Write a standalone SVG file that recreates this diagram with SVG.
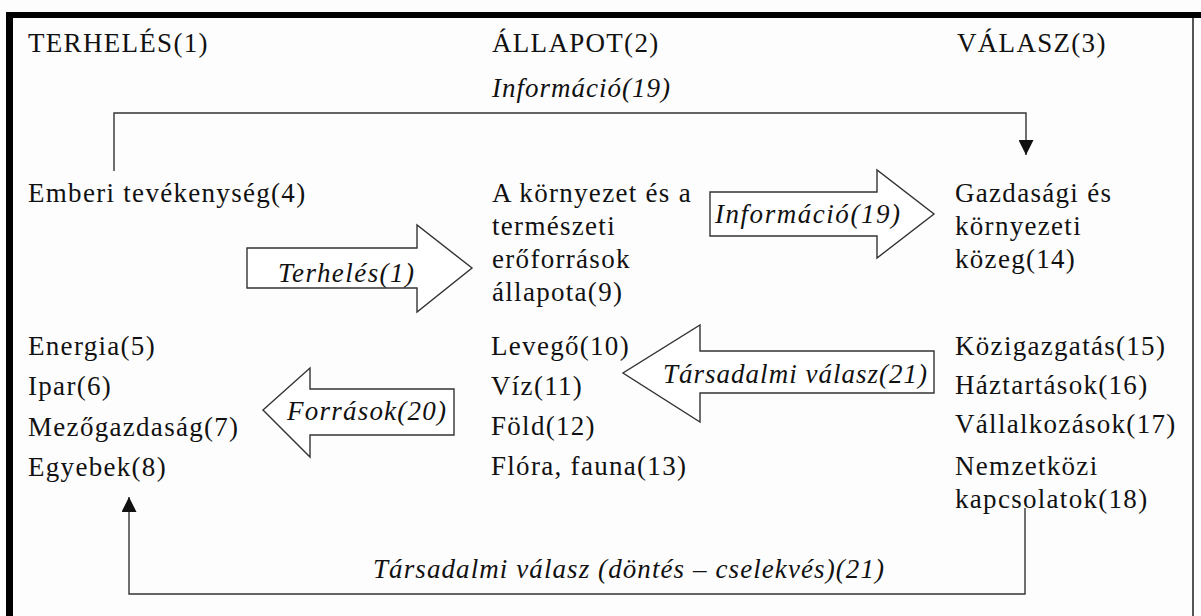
<svg xmlns="http://www.w3.org/2000/svg" width="1201" height="616" viewBox="0 0 1201 616">
<style>
  text { font-family: "Liberation Serif", "DejaVu Serif", "Times New Roman", serif; }
  .t { font-size: 27px; fill: #111; letter-spacing: 1.3px; }
  .i { font-size: 27px; font-style: italic; fill: #111; letter-spacing: 1px; }
  .ln { fill: none; stroke: #333; stroke-width: 1.4; }
  .blk { fill: #fff; stroke: #333; stroke-width: 1.4; stroke-linejoin: miter; }
</style>
<defs>
  <marker id="ah" viewBox="0 0 10 10" refX="10" refY="5" markerWidth="15" markerHeight="15" markerUnits="userSpaceOnUse" orient="auto">
    <path d="M0,0 L10,5 L0,10 Z" fill="#111"/>
  </marker>
</defs>
<rect x="0" y="0" width="1201" height="616" fill="#fdfdfd"/>
<g id="frame">
  <rect x="6" y="12" width="1195" height="6" fill="#000"/>
  <rect x="6" y="12" width="7" height="604" fill="#000"/>
  <line x1="1193" y1="18" x2="1193" y2="616" stroke="#555" stroke-width="2"/>
</g>
<g id="headers">
  <text class="t" x="28" y="52">TERHELÉS(1)</text>
  <text class="t" x="492" y="52">ÁLLAPOT(2)</text>
  <text class="t" x="957" y="52">VÁLASZ(3)</text>
</g>
<g id="connectors">
  <path class="ln" d="M114,171 V113 H1026 V155" marker-end="url(#ah)"/>
  <text class="i" x="492" y="97">Információ(19)</text>
  <path class="ln" d="M1025,508 V594 H129 V497" marker-end="url(#ah)"/>
  <text class="i" x="373" y="578" textLength="512" lengthAdjust="spacing">Társadalmi válasz (döntés – cselekvés)(21)</text>
</g>
<g id="arrow-terheles">
  <path class="blk" d="M247,248 H417 V225 L472,268 L417,312 V288 H247 Z"/>
  <text class="i" x="278" y="282" textLength="137" lengthAdjust="spacing">Terhelés(1)</text>
</g>
<g id="arrow-informacio">
  <path class="blk" d="M710,192 H877 V170 L934,214 L877,258 V236 H710 Z"/>
  <text class="i" x="715" y="223" textLength="186" lengthAdjust="spacing">Információ(19)</text>
</g>
<g id="arrow-tarsadalmi">
  <path class="blk" d="M934,351 H700 V325 L623,373 L700,422 V393 H934 Z"/>
  <text class="i" x="663" y="383" textLength="265" lengthAdjust="spacing">Társadalmi válasz(21)</text>
</g>
<g id="arrow-forrasok">
  <path class="blk" d="M454,389 H310 V368 L263,410 L310,457 V435 H454 Z"/>
  <text class="i" x="287" y="420" textLength="160" lengthAdjust="spacing">Források(20)</text>
</g>
<g id="node-emberi">
  <text class="t" x="28" y="202">Emberi tevékenység(4)</text>
</g>
<g id="node-allapot">
  <text class="t" x="492" y="202">A környezet és a</text>
  <text class="t" x="492" y="235">természeti</text>
  <text class="t" x="492" y="268">erőforrások</text>
  <text class="t" x="492" y="301">állapota(9)</text>
</g>
<g id="node-kozeg">
  <text class="t" x="955" y="202">Gazdasági és</text>
  <text class="t" x="955" y="235">környezeti</text>
  <text class="t" x="955" y="268">közeg(14)</text>
</g>
<g id="node-terheles-list">
  <text class="t" x="28" y="355">Energia(5)</text>
  <text class="t" x="28" y="395">Ipar(6)</text>
  <text class="t" x="28" y="436">Mezőgazdaság(7)</text>
  <text class="t" x="28" y="476">Egyebek(8)</text>
</g>
<g id="node-allapot-list">
  <text class="t" x="491" y="355">Levegő(10)</text>
  <text class="t" x="491" y="395">Víz(11)</text>
  <text class="t" x="491" y="435">Föld(12)</text>
  <text class="t" x="491" y="475">Flóra, fauna(13)</text>
</g>
<g id="node-valasz-list">
  <text class="t" x="955" y="355">Közigazgatás(15)</text>
  <text class="t" x="955" y="394">Háztartások(16)</text>
  <text class="t" x="955" y="433">Vállalkozások(17)</text>
  <text class="t" x="955" y="475">Nemzetközi</text>
  <text class="t" x="955" y="508">kapcsolatok(18)</text>
</g>
</svg>
